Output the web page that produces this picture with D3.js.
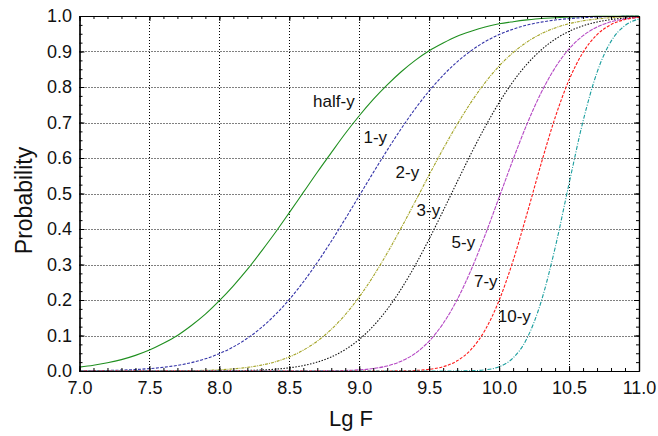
<!DOCTYPE html>
<html>
<head>
<meta charset="utf-8">
<script src="https://cdn.jsdelivr.net/npm/d3@7"></script>
<style>
  body { margin: 0; background: #fff; }
  svg { font-family: "Liberation Sans", Arial, sans-serif; }
</style>
</head>
<body>
<svg id="chart" width="658" height="436"></svg>
<script>
// x grid (Lg F)
const lgF = [7.0, 7.1, 7.2, 7.3, 7.4, 7.5, 7.6, 7.7, 7.8, 7.9,
             8.0, 8.1, 8.2, 8.3, 8.4, 8.5, 8.6, 8.7, 8.8, 8.9,
             9.0, 9.1, 9.2, 9.3, 9.4, 9.5, 9.6, 9.7, 9.8, 9.9,
             10.0, 10.1, 10.2, 10.3, 10.4, 10.5, 10.6, 10.7, 10.8, 10.9, 11.0];

const halfY = [.011, .016, .023, .032, .044, .059, .078, .100, .128, .160,
               .198, .240, .286, .337, .390, .446, .503, .560, .615, .669,
               .719, .765, .806, .843, .875, .902, .924, .943, .957, .969,
               .978, .984, .989, .993, .995, .997, .998, .999, .999, 1.0, 1.0];

const oneY = [.0005, .0009, .0015, .0025, .0042, .0067, .0104, .0159, .0236, .0344,
              .0489, .0679, .0921, .1222, .1587, .2016, .2508, .3057, .3654, .4286,
              .4936, .5588, .6221, .6826, .7386, .7890, .8332, .8710, .9023, .9277,
              .9477, .9630, .9745, .9828, .9886, .9927, .9954, .9972, .9983, .9990, .9994];

const twoY = [0, 0, 0, 0, .0001, .0001, .0003, .0005, .0011, .0019,
              .0035, .0060, .0101, .0165, .0260, .0396, .0587, .0842, .1172, .1587,
              .2087, .2667, .3322, .4032, .4773, .5525, .6259, .6946, .7574, .8125,
              .8589, .8969, .9269, .9497, .9664, .9783, .9864, .9917, .9951, .9972, .9985];

const threeY = [0, 0, 0, 0, 0, 0, 0, 0, .0001, .0002,
                .0004, .0007, .0014, .0028, .0051, .0090, .0153, .0251, .0396, .0604,
                .0890, .1265, .1739, .2312, .2977, .3718, .4514, .5327, .6126, .6879,
                .7561, .8154, .8648, .9042, .9345, .9567, .9725, .9831, .9900, .9943, .9969];

const fiveY = [0, 0, 0, 0, 0, 0, 0, 0, 0, 0,
               0, 0, 0, 0, 0, 0, .0001, .0002, .0005, .0013,
               .0032, .0070, .0143, .0275, .0496, .0841, .1339, .2010, .2851, .3832,
               .4892, .5960, .6963, .7835, .8541, .9073, .9446, .9689, .9836, .9919, .9963];

const sevenY = [0, 0, 0, 0, 0, 0, 0, 0, 0, 0,
                0, 0, 0, 0, 0, 0, 0, 0, 0, 0,
                0, 0, .0001, .0005, .0015, .0046, .0121, .0287, .0607, .1156,
                .1990, .3110, .4440, .5836, .7134, .8200, .8976, .9474, .9757, .9899, .9963];

const tenY = [0, 0, 0, 0, 0, 0, 0, 0, 0, 0,
              0, 0, 0, 0, 0, 0, 0, 0, 0, 0,
              0, 0, 0, 0, 0, 0, 0, .0001, .0007, .0033,
              .0120, .0367, .0924, .1949, .3464, .5279, .7037, .8413, .9286, .9732, .9917];

const seriesNames = ["half-y", "1-y", "2-y", "3-y", "5-y", "7-y", "10-y"];
const seriesValues = [halfY, oneY, twoY, threeY, fiveY, sevenY, tenY];
const seriesColors = ["#1f8f1f", "#3434a8", "#a3a324", "#111111", "#b548c4", "#ff1a1a", "#1a9e9e"];
const seriesDash = [null, "3,1.5", "3,1,1,1", "1.5,1.5", "4,1", "3,1.5", "4,1.5,1,1.5"];
// where each label sits, in data units (lg F, probability)
const labelX = [8.67, 9.03, 9.26, 9.41, 9.66, 9.82, 9.99];
const labelY = [0.743, 0.643, 0.544, 0.437, 0.346, 0.237, 0.138];

const xTicks = [7.0, 7.5, 8.0, 8.5, 9.0, 9.5, 10.0, 10.5, 11.0];
const yTicks = [0, 0.1, 0.2, 0.3, 0.4, 0.5, 0.6, 0.7, 0.8, 0.9, 1.0];

const svg = d3.select("#chart");
const plotL = 79.5, plotR = 639, plotT = 16, plotB = 371;

const x = d3.scaleLinear().domain([7, 11]).range([plotL, plotR]);
const y = d3.scaleLinear().domain([0, 1]).range([plotB, plotT]);

// grid
const grid = svg.append("g").attr("stroke", "#000").attr("stroke-width", 1)
  .attr("stroke-dasharray", "1,2");
grid.selectAll(".gx").data(xTicks.slice(1, -1)).enter().append("line")
  .attr("x1", d => Math.round(x(d)) + 0.5).attr("x2", d => Math.round(x(d)) + 0.5)
  .attr("y1", plotT).attr("y2", plotB);
grid.selectAll(".gy").data(yTicks.slice(1, -1)).enter().append("line")
  .attr("y1", d => Math.round(y(d)) + 0.5).attr("y2", d => Math.round(y(d)) + 0.5)
  .attr("x1", plotL).attr("x2", plotR);

// curves
const line = d3.line()
  .x((d, i) => x(lgF[i]))
  .y(d => y(d))
  .curve(d3.curveMonotoneX);

svg.append("g").selectAll("path").data(seriesValues).enter().append("path")
  .attr("d", line)
  .attr("fill", "none")
  .attr("stroke", (d, i) => seriesColors[i])
  .attr("stroke-width", 1.1)
  .attr("stroke-dasharray", (d, i) => seriesDash[i]);

// axes: major ticks inward, minor ticks every 0.1 / 0.025
const minorX = d3.range(70, 111).map(d => d / 10);
const minorY = d3.range(0, 41).map(d => d / 40);

function axisG(gen, tx, ty) {
  return svg.append("g").attr("transform", "translate(" + tx + "," + ty + ")").call(gen);
}

axisG(d3.axisBottom(x).tickValues(xTicks).tickFormat(d3.format(".1f"))
  .tickSizeInner(-5).tickSizeOuter(0).tickPadding(10.5), 0, plotB);
axisG(d3.axisBottom(x).tickValues(minorX).tickFormat("").tickSizeInner(-3).tickSizeOuter(0), 0, plotB);
axisG(d3.axisTop(x).tickValues(xTicks).tickFormat("").tickSizeInner(-5).tickSizeOuter(0), 0, plotT);
axisG(d3.axisTop(x).tickValues(minorX).tickFormat("").tickSizeInner(-3).tickSizeOuter(0), 0, plotT);

axisG(d3.axisLeft(y).tickValues(yTicks).tickFormat(d3.format(".1f"))
  .tickSizeInner(-5).tickSizeOuter(0).tickPadding(7.5), plotL, 0);
axisG(d3.axisLeft(y).tickValues(minorY).tickFormat("").tickSizeInner(-3).tickSizeOuter(0), plotL, 0);
axisG(d3.axisRight(y).tickValues(yTicks).tickFormat("").tickSizeInner(-5).tickSizeOuter(0), plotR, 0);
axisG(d3.axisRight(y).tickValues(minorY).tickFormat("").tickSizeInner(-3).tickSizeOuter(0), plotR, 0);

svg.selectAll(".domain").attr("stroke", "#000").attr("stroke-width", 1.2);
svg.selectAll(".tick line").attr("stroke", "#000");
svg.selectAll(".tick text").attr("font-family", "Liberation Sans, Arial, sans-serif")
  .attr("font-size", 18).attr("fill", "#111");

// series labels
svg.append("g").selectAll("text").data(seriesNames).enter().append("text")
  .attr("x", (d, i) => x(labelX[i]))
  .attr("y", (d, i) => y(labelY[i]))
  .attr("font-size", 17)
  .attr("fill", "#111")
  .text(d => d);

// axis titles
svg.append("text")
  .attr("x", 351).attr("y", 426)
  .attr("text-anchor", "middle").attr("font-size", 22).attr("fill", "#111")
  .text("Lg F");
svg.append("text")
  .attr("transform", "translate(32,200.5) rotate(-90)")
  .attr("text-anchor", "middle").attr("font-size", 23).attr("fill", "#111")
  .text("Probability");
</script>
</body>
</html>
